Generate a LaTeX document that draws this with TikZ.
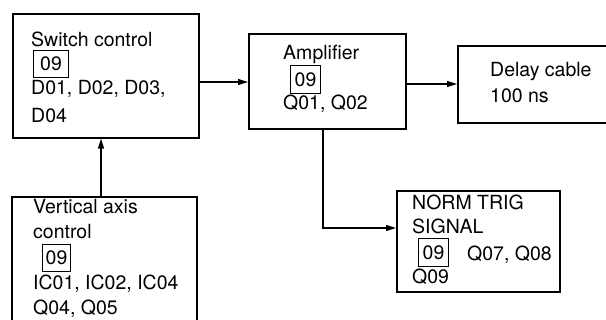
\documentclass[tikz,border=0pt]{standalone}
\usepackage{fontspec}
\setmainfont{TeX Gyre Heros}
\usetikzlibrary{arrows.meta}
\begin{document}
\begin{tikzpicture}[x=1pt,y=-1pt,
  blk/.style={draw,line width=1.6pt,inner sep=0pt,anchor=north west},
  txt/.style={anchor=base west,inner sep=0pt,font=\fontsize{19.5}{25}\selectfont},
  num/.style={draw,line width=1.1pt,inner sep=0pt,anchor=north west,font=\fontsize{19.5}{25}\selectfont},
  conn/.style={line width=1.2pt,-{Triangle[length=10pt,width=6pt]}}]
\useasboundingbox (0,0) rectangle (606,320);
% boxes
\node[blk,minimum width=186pt,minimum height=124pt] (sw) at (12,13) {};
\node[blk,minimum width=157pt,minimum height=95pt] (amp) at (248,33) {};
\node[blk,minimum width=165pt,minimum height=77pt] (dly) at (457,45) {};
\node[blk,minimum width=185pt,minimum height=140pt] (va) at (11,196) {};
\node[blk,minimum width=163pt,minimum height=101pt] (nt) at (396,190) {};
% switch control
\node[txt] (sw1) at (31,47) {Switch control};
\node[num,minimum width=35pt,minimum height=27pt] (sw2) at (33,50) {09};
\node[txt] (sw3) at (31,95) {D01, D02, D03,};
\node[txt] (sw4) at (31,123) {D04};
% amplifier
\node[txt] (amp1) at (283,60) {Amplifier};
\node[num,minimum width=30pt,minimum height=28pt] (amp2) at (290,65) {09};
\node[txt] (amp3) at (283,110) {Q01, Q02};
% delay
\node[txt] (dly1) at (490,77) {Delay cable};
\node[txt] (dly2) at (490,103) {100 ns};
% vertical axis
\node[txt] (va1) at (33,214) {Vertical axis};
\node[txt] (va2) at (33,239) {control};
\node[num,minimum width=28pt,minimum height=27pt] (va3) at (42,244) {09};
\node[txt] (va4) at (33,290) {IC01, IC02, IC04};
\node[txt] (va5) at (33,315) {Q04, Q05};
% norm trig
\node[txt] (nt1) at (412,210) {NORM TRIG};
\node[txt] (nt2) at (412,234) {SIGNAL};
\node[num,minimum width=30pt,minimum height=28pt] (nt3) at (418,238) {09};
\node[txt] (nt4) at (467,261) {Q07, Q08};
\node[txt] (nt5) at (412,284) {Q09};
% connectors
\coordinate (k) at (323,228);
\coordinate (vx) at (101,0);
\coordinate (hy) at (0,82);
\coordinate (hy2) at (0,84);
\draw[conn] (sw.east |- hy) -- (amp.west |- hy);
\draw[conn] (amp.east |- hy2) -- (dly.west |- hy2);
\draw[conn] (va.north -| vx) -- (sw.south -| vx);
\draw[conn] (amp.south -| k) -- (k) -- (k -| nt.west);
\end{tikzpicture}
\end{document}
